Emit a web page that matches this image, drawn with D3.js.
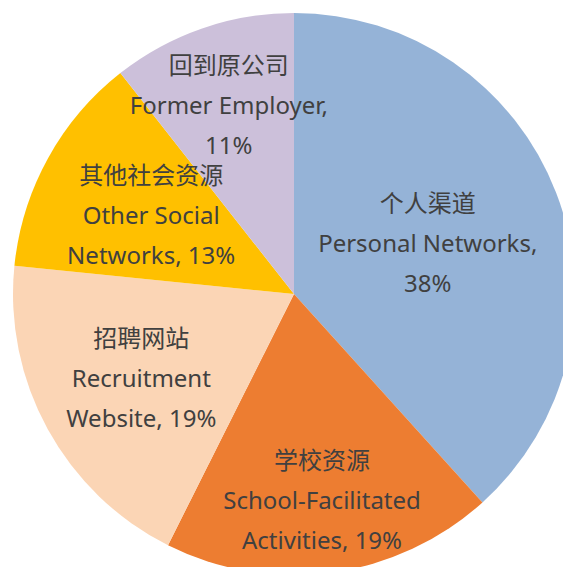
<!DOCTYPE html>
<html>
<head>
<meta charset="utf-8">
<script src="https://cdn.jsdelivr.net/npm/d3@7"></script>
<style>
  html, body { margin: 0; padding: 0; background: #fff; }
  svg { display: block; }
</style>
</head>
<body>
<div id="chart"></div>
<script>
// data
const categoriesZh = ["个人渠道", "学校资源", "招聘网站", "其他社会资源", "回到原公司"];
const categoriesEn = [
    ["Personal Networks,", "{v}%"],
    ["School-Facilitated", "Activities, {v}%"],
    ["Recruitment", "Website, {v}%"],
    ["Other Social", "Networks, {v}%"],
    ["Former Employer,", "{v}%"]
];
const values = [38.3, 19.1, 19.2, 12.8, 10.6];
const colors = ["#95B3D7", "#ED7D31", "#FBD5B5", "#FFC000", "#CCC0DA"];

// where each label sits along its slice's middle angle (fraction of radius)
const labelRadius = [0.51, 0.74, 0.62, 0.58, 0.71];

const width = 563;
const height = 567;
const cx = 294, cy = 294, r = 281;

const svg = d3.select("#chart")
    .append("svg")
    .attr("width", width)
    .attr("height", height);

const g = svg.append("g")
    .attr("transform", `translate(${cx},${cy})`);

const pie = d3.pie().sort(null).value(d => d);
const arcs = pie(values);

const arc = d3.arc().innerRadius(0).outerRadius(r);

// SLICES
g.selectAll("path")
    .data(arcs)
    .enter()
    .append("path")
    .attr("d", arc)
    .attr("fill", (d, i) => colors[i]);

// LABELS
const labels = g.selectAll("text")
    .data(arcs)
    .enter()
    .append("text")
    .attr("transform", (d, i) => {
        const a = (d.startAngle + d.endAngle) / 2;
        const rr = r * labelRadius[i];
        return `translate(${Math.sin(a) * rr},${-Math.cos(a) * rr})`;
    })
    .attr("text-anchor", "middle")
    .attr("fill", "#404040")
    .style("font-family", "'Noto Sans', 'Noto Sans CJK SC', sans-serif")
    .style("font-size", "24px");

labels.each(function(d, i) {
    const pct = Math.round(values[i]);
    const lines = [categoriesZh[i]].concat(categoriesEn[i].map(s => s.replace("{v}", pct)));
    d3.select(this).selectAll("tspan")
        .data(lines)
        .enter()
        .append("tspan")
        .attr("x", 0)
        .attr("y", (s, j) => (j - 1) * 40 + 9)
        .text(s => s);
});
</script>
</body>
</html>
